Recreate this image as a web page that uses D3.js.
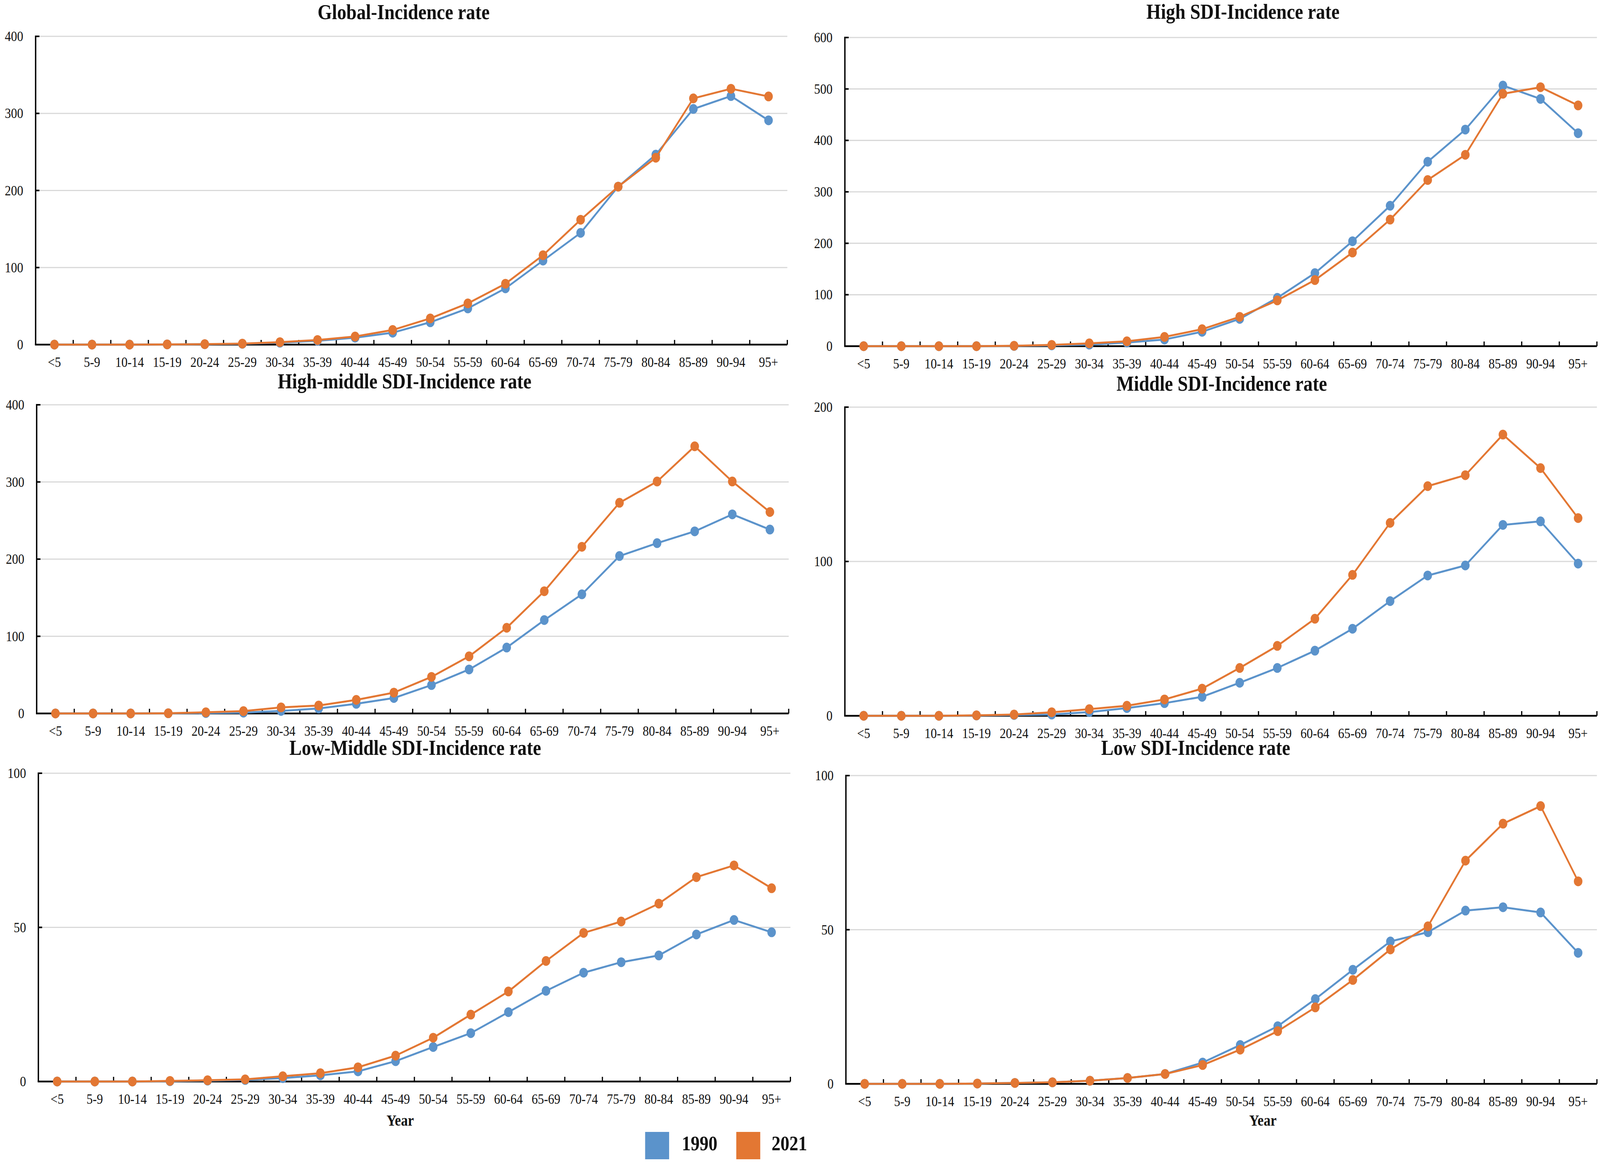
<!DOCTYPE html>
<html>
<head>
<meta charset="utf-8">
<script src="https://cdn.jsdelivr.net/npm/d3@7"></script>
<style>
  html, body { margin: 0; padding: 0; background: #ffffff; overflow: hidden; }
  #chart { display: block; width: 100vw; height: 100vh; }
  svg text { font-family: "Liberation Serif", "Times New Roman", serif; fill: #111; }
</style>
</head>
<body>
<svg id="chart" viewBox="0 0 4670 2974" preserveAspectRatio="none"></svg>
<script>
// ---------------- DATA ----------------
const ageGroups = ["<5","5-9","10-14","15-19","20-24","25-29","30-34","35-39","40-44","45-49",
                   "50-54","55-59","60-64","65-69","70-74","75-79","80-84","85-89","90-94","95+"];
const seriesNames = ["1990", "2021"];
const panelTitles = ["Global-Incidence rate", "High SDI-Incidence rate", "High-middle SDI-Incidence rate",
                     "Middle SDI-Incidence rate", "Low-Middle SDI-Incidence rate", "Low SDI-Incidence rate"];
const yTicksGlobal = [0, 100, 200, 300, 400];
const yTicksHigh = [0, 100, 200, 300, 400, 500, 600];
const yTicksHighMiddle = [0, 100, 200, 300, 400];
const yTicksMiddle = [0, 100, 200];
const yTicksLowMiddle = [0, 50, 100];
const yTicksLow = [0, 50, 100];

const global1990 = [0, 0, 0, 0.3, 0.5, 1, 2.5, 5, 9, 15.5, 29, 47, 73, 109, 145, 205, 246.5, 305.8, 322.5, 291];
const global2021 = [0, 0, 0, 0.3, 0.6, 1.3, 3.2, 6, 10.5, 19, 34, 53.5, 79, 116, 162, 205, 242.5, 319.5, 332, 322];
const high1990 = [0, 0, 0, 0, 0.5, 1.5, 3, 7, 13, 28, 53, 94, 142, 204, 273, 358.5, 421, 506.6, 480.6, 414];
const high2021 = [0, 0, 0, 0, 0.8, 2.5, 5.5, 9.5, 18, 33, 57, 89, 128.5, 182, 246, 323, 372, 490.7, 503.4, 468];
const highMiddle1990 = [0, 0, 0, 0.2, 0.5, 1, 3.3, 6.4, 12.5, 20, 36.8, 57, 85.4, 121, 154.4, 204, 220.7, 236, 258, 238.3];
const highMiddle2021 = [0, 0, 0, 0.3, 1.5, 3, 7.9, 10.3, 17.6, 27, 47.4, 74, 111, 158.4, 216, 273, 300.6, 346.2, 300.6, 261];
const middle1990 = [0, 0, 0, 0.2, 0.5, 0.8, 2.4, 5, 8.2, 12.3, 21.4, 31, 42.2, 56.4, 74.3, 90.9, 97.4, 123.7, 126, 98.6];
const middle2021 = [0, 0, 0, 0.3, 0.8, 2.3, 4.3, 6.5, 10.6, 17.6, 31, 45.3, 62.9, 91.3, 125, 148.8, 155.9, 182.2, 160.5, 128.1];
const lowMiddle1990 = [0, 0, 0, 0.1, 0.3, 0.5, 1.1, 2, 3.3, 6.6, 11.2, 15.7, 22.5, 29.4, 35.3, 38.7, 40.9, 47.7, 52.4, 48.4];
const lowMiddle2021 = [0, 0, 0, 0.2, 0.4, 0.7, 1.7, 2.7, 4.6, 8.4, 14.2, 21.7, 29.2, 39.1, 48.2, 51.9, 57.7, 66.3, 70.1, 62.7];
const low1990 = [0, 0, 0, 0.1, 0.3, 0.5, 1, 1.9, 3.2, 6.9, 12.6, 18.7, 27.5, 37, 46.2, 49.2, 56.2, 57.3, 55.6, 42.5];
const low2021 = [0, 0, 0, 0.1, 0.3, 0.5, 1, 1.9, 3.2, 6.1, 11.1, 17.1, 24.8, 33.7, 43.6, 51.1, 72.4, 84.4, 90.1, 65.7];

// ---------------- STYLE / LAYOUT ----------------
const colors = { "1990": "#5B93CB", "2021": "#E37733" };
const layout = [
  { left: 104,  right: 2298, top: 93,   bottom: 882,  titleX: 1178, titleY: 49 },
  { left: 2466, right: 4661, top: 96,   bottom: 886,  titleX: 3628, titleY: 48 },
  { left: 107,  right: 2302, top: 1036, bottom: 1826, titleX: 1181, titleY: 994 },
  { left: 2466, right: 4661, top: 1042, bottom: 1832, titleX: 3566, titleY: 1000 },
  { left: 112,  right: 2307, top: 1979, bottom: 2768, titleX: 1212, titleY: 1932, yearX: 1168 },
  { left: 2469, right: 4661, top: 1985, bottom: 2774, titleX: 3490, titleY: 1932, yearX: 3686 }
];

const panels = [
  { title: panelTitles[0], ticks: yTicksGlobal,     s: [global1990, global2021] },
  { title: panelTitles[1], ticks: yTicksHigh,       s: [high1990, high2021] },
  { title: panelTitles[2], ticks: yTicksHighMiddle, s: [highMiddle1990, highMiddle2021] },
  { title: panelTitles[3], ticks: yTicksMiddle,     s: [middle1990, middle2021] },
  { title: panelTitles[4], ticks: yTicksLowMiddle,  s: [lowMiddle1990, lowMiddle2021] },
  { title: panelTitles[5], ticks: yTicksLow,        s: [low1990, low2021] }
];

const svg = d3.select("#chart");

panels.forEach((p, i) => {
  const L = layout[i];
  const g = svg.append("g");
  const x = d3.scaleBand().domain(ageGroups).range([L.left, L.right]).paddingInner(0).paddingOuter(0);
  const yMax = d3.max(p.ticks);
  const y = d3.scaleLinear().domain([0, yMax]).range([L.bottom, L.top]);

  // title
  g.append("text")
    .attr("x", L.titleX).attr("y", L.titleY)
    .attr("text-anchor", "middle")
    .style("font-size", "54px").style("font-weight", "bold")
    .text(p.title);

  // gridlines
  g.append("g").selectAll("line").data(p.ticks.filter(t => t > 0)).join("line")
    .attr("x1", L.left).attr("x2", L.right)
    .attr("y1", d => y(d)).attr("y2", d => y(d))
    .attr("stroke", "#D9D9D9").attr("stroke-width", 3.2);

  // y axis
  const yAxis = d3.axisLeft(y).tickValues(p.ticks).tickSize(0).tickPadding(36).tickFormat(d3.format("d"));
  const ya = g.append("g").attr("transform", `translate(${L.left},0)`).call(yAxis);
  ya.select(".domain").remove();
  ya.selectAll("text").style("font-size", "36px").style("font-family", "'Liberation Serif', serif").attr("fill", "#111");
  g.append("line").attr("x1", L.left).attr("x2", L.left).attr("y1", L.top - 2).attr("y2", L.bottom)
    .attr("stroke", "#000").attr("stroke-width", 4);
  g.append("g").selectAll("line").data(p.ticks).join("line")
    .attr("x1", L.left).attr("x2", L.left + 11)
    .attr("y1", d => y(d)).attr("y2", d => y(d))
    .attr("stroke", "#000").attr("stroke-width", 4);

  // x axis
  const xAxis = d3.axisBottom(x).tickSize(0).tickPadding(0);
  const xa = g.append("g").attr("transform", `translate(0,${L.bottom})`).call(xAxis);
  xa.select(".domain").remove();
  xa.selectAll("text").attr("dy", null).attr("y", 57)
    .style("font-size", "36px").style("font-family", "'Liberation Serif', serif").attr("fill", "#111");
  g.append("line").attr("x1", L.left - 2).attr("x2", L.right).attr("y1", L.bottom).attr("y2", L.bottom)
    .attr("stroke", "#000").attr("stroke-width", 4.5);
  const bounds = ageGroups.slice(1).map(a => x(a)).concat([L.right]);
  g.append("g").selectAll("line").data(bounds).join("line")
    .attr("x1", d => d).attr("x2", d => d)
    .attr("y1", L.bottom).attr("y2", L.bottom - 12)
    .attr("stroke", "#000").attr("stroke-width", 3.5);

  if (L.yearX !== undefined) {
    g.append("text").attr("x", L.yearX).attr("y", 2881).attr("text-anchor", "middle")
      .style("font-size", "40px").style("font-weight", "bold").text("Year");
  }

  // series (1990 first, 2021 on top)
  const line = d3.line().x((d, k) => x(ageGroups[k]) + x.bandwidth() / 2).y(d => y(d));
  p.s.forEach((vals, si) => {
    const c = colors[seriesNames[si]];
    g.append("path").datum(vals).attr("d", line)
      .attr("fill", "none").attr("stroke", c).attr("stroke-width", 5).attr("stroke-linejoin", "round");
    g.append("g").selectAll("circle").data(vals).join("circle")
      .attr("cx", (d, k) => x(ageGroups[k]) + x.bandwidth() / 2)
      .attr("cy", d => y(d)).attr("r", 12.5).attr("fill", c);
  });
});

// legend
const legendPos = [{ sx: 1883, tx: 1990 }, { sx: 2149, tx: 2252 }];
const lg = svg.append("g");
seriesNames.forEach((n, i) => {
  lg.append("rect").attr("x", legendPos[i].sx).attr("y", 2897).attr("width", 70).attr("height", 70)
    .attr("fill", colors[n]);
  lg.append("text").attr("x", legendPos[i].tx).attr("y", 2944)
    .style("font-size", "52px").style("font-weight", "bold").text(n);
});
</script>
</body>
</html>
